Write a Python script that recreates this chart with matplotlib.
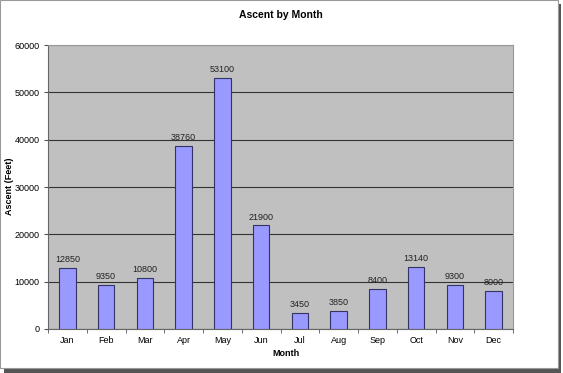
import matplotlib
matplotlib.use("Agg")
import matplotlib.pyplot as plt
from matplotlib.patches import Rectangle

months = ["Jan", "Feb", "Mar", "Apr", "May", "Jun", "Jul", "Aug", "Sep", "Oct", "Nov", "Dec"]
ascent = [12850, 9350, 10800, 38760, 53100, 21900, 3450, 3850, 8400, 13140, 9300, 8000]
yticks = [0, 10000, 20000, 30000, 40000, 50000, 60000]

plt.rcParams['font.family'] = ['Liberation Sans', 'DejaVu Sans']

fig = plt.figure(figsize=(5.63, 3.73), dpi=100)
fig.patch.set_facecolor('white')

# frame with shadow
fig.add_artist(Rectangle((4/563, 0), 557/563, 369/373, transform=fig.transFigure,
                         facecolor='#555555', edgecolor='none', zorder=-2))
fig.add_artist(Rectangle((0, 5/373), 558/563, 368/373, transform=fig.transFigure,
                         facecolor='white', edgecolor='#9a9a9a', linewidth=0.8, zorder=-1))

ax = fig.add_axes([48/563, 44/373, 465/563, 284/373])
ax.set_facecolor('#c0c0c0')
x = list(range(len(months)))
ax.bar(x, ascent, width=0.42, color='#9999ff', edgecolor='#333366', linewidth=0.8, zorder=3)
for xi, v in zip(x, ascent):
    ax.text(xi, v + 800, str(v), ha='center', va='bottom', fontsize=6.5, color='#222222', zorder=4)

ax.set_xlim(-0.5, len(months) - 0.5)
ax.set_ylim(0, 60000)
ax.set_yticks(yticks)
ax.set_yticklabels([str(t) for t in yticks], fontsize=6.5)
ax.set_xticks(x)
ax.set_xticklabels(months, fontsize=6.5)
ax.set_xticks([i - 0.5 for i in range(len(months) + 1)], minor=True)
ax.tick_params(axis='x', which='major', length=0, pad=5)
ax.tick_params(axis='x', which='minor', length=3, color='#555555', direction='out')
ax.tick_params(axis='y', length=3, color='#555555', pad=3)
ax.yaxis.grid(True, color='#333333', linewidth=0.8, zorder=1)
ax.set_axisbelow(True)
for side in ['top', 'right']:
    ax.spines[side].set_color('#999999')
    ax.spines[side].set_linewidth(0.8)
for side in ['left', 'bottom']:
    ax.spines[side].set_color('#666666')
    ax.spines[side].set_linewidth(0.8)

fig.text(281/563, 1 - 15/373, "Ascent by Month", ha='center', va='center', fontsize=7.5, fontweight='bold')
fig.text(286/563, 1 - 353/373, "Month", ha='center', va='center', fontsize=6.5, fontweight='bold')
fig.text(10/563, 1 - 186/373, "Ascent (Feet)", ha='center', va='center', rotation=90, fontsize=6.5, fontweight='bold')

fig.savefig("out.png", dpi=100)
